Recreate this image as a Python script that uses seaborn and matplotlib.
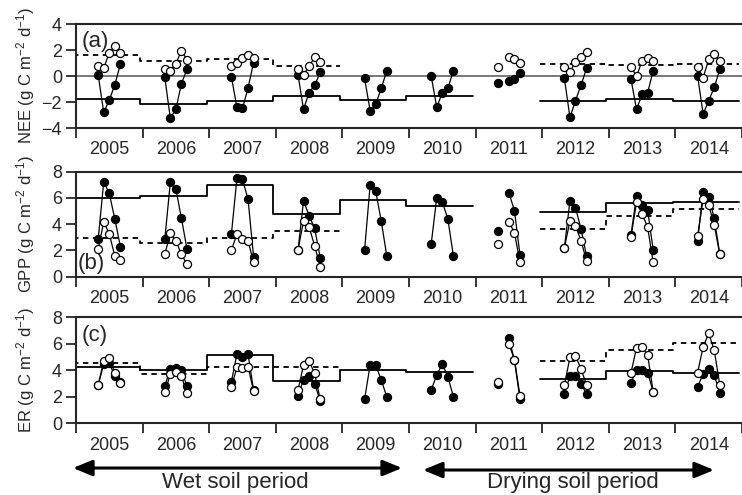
import numpy as np
import pandas as pd
import matplotlib
matplotlib.use("Agg")
import matplotlib.pyplot as plt
from matplotlib.patches import FancyArrowPatch
import seaborn as sns

nan = np.nan
years = list(range(2005, 2015))
months = [5, 6, 7, 8, 9]
year_labels = [str(y) for y in years]

# Monthly means (May-Sep), one row per year; filled = closed symbols, hollow = open symbols
nee_filled = [
    [0.08, -2.80, -1.85, -0.67, 0.90],
    [-0.10, -3.25, -2.56, -0.59, 0.51],
    [-0.05, -2.41, -2.49, -0.92, 1.03],
    [0.09, -2.56, -1.27, -0.72, 0.27],
    [-0.18, -2.67, -2.18, -0.95, 0.41],
    [0.00, -2.41, -1.28, -0.95, 0.41],
    [-0.51, nan, -0.38, -0.25, 0.20],
    [-0.18, -3.18, -1.90, -0.69, 0.59],
    [-0.26, -2.56, -1.41, -1.28, 0.41],
    [0.00, -2.92, -1.90, -0.87, 0.51],
]
nee_hollow = [
    [0.77, 0.60, 1.79, 2.33, 1.75],
    [0.57, 0.42, 0.95, 1.95, 1.25],
    [0.77, 1.03, 1.36, 1.60, 1.41],
    [0.51, 0.08, 0.75, 1.44, 1.10],
    [nan, nan, nan, nan, nan],
    [nan, nan, nan, nan, nan],
    [0.68, nan, 1.49, 1.33, 1.03],
    [0.67, 0.33, 1.10, 1.49, 1.82],
    [0.67, 0.00, 1.15, 1.41, 1.18],
    [0.67, -0.13, 1.28, 1.67, 1.15],
]
gpp_filled = [
    [2.85, 7.24, 6.35, 4.40, 2.29],
    [2.85, 7.19, 6.68, 4.45, 2.11],
    [3.23, 7.50, 7.42, 5.90, 1.52],
    [2.00, 5.79, 4.65, 3.69, 1.45],
    [2.03, 6.99, 6.53, 4.24, 1.58],
    [2.49, 6.02, 5.71, 4.40, 1.58],
    [3.48, nan, 6.40, 5.03, 1.65],
    [2.20, 5.79, 5.26, 3.63, 1.58],
    [3.20, 6.17, 5.46, 5.08, 2.03],
    [2.74, 6.48, 6.10, 4.45, 1.70],
]
gpp_hollow = [
    [2.11, 4.19, 3.25, 1.58, 1.27],
    [1.70, 3.30, 2.74, 1.70, 0.94],
    [2.03, 3.23, 2.85, 2.74, 1.09],
    [2.03, 4.24, 3.81, 2.34, 0.76],
    [nan, nan, nan, nan, nan],
    [nan, nan, nan, nan, nan],
    [2.46, nan, 4.19, 3.35, 1.09],
    [2.21, 4.24, 3.86, 2.74, 1.20],
    [3.05, 5.67, 4.78, 3.76, 1.09],
    [3.10, 5.92, 5.46, 3.94, 1.70],
]
er_filled = [
    [2.90, 4.48, 4.53, 3.57, 3.10],
    [2.82, 4.08, 4.20, 4.00, 2.82],
    [3.14, 5.23, 4.98, 5.23, 2.50],
    [2.08, 3.30, 3.55, 3.00, 1.71],
    [1.83, 4.40, 4.40, 3.27, 2.00],
    [2.51, 3.64, 4.47, 3.52, 2.01],
    [3.00, nan, 6.45, 4.75, 1.80],
    [2.21, 3.57, 3.57, 2.97, 2.21],
    [3.07, 4.02, 4.02, 3.82, 2.40],
    [2.77, 3.72, 4.08, 3.65, 2.26],
]
er_hollow = [
    [2.89, 4.70, 4.95, 3.82, 3.07],
    [2.34, 3.72, 3.90, 3.57, 2.26],
    [2.72, 4.23, 4.15, 4.27, 2.46],
    [2.51, 4.40, 4.70, 3.77, 1.81],
    [nan, nan, nan, nan, nan],
    [nan, nan, nan, nan, nan],
    [3.15, nan, 6.00, 4.80, 2.10],
    [2.89, 4.98, 5.08, 4.10, 2.89],
    [3.82, 5.70, 5.78, 5.15, 2.39],
    [3.82, 5.78, 6.79, 5.53, 2.89],
]

# Annual means (solid = filled series, dashed = hollow series)
nee_annual_filled = [-1.79, -2.18, -1.90, -1.52, -1.85, -1.54, nan, -1.90, -1.74, -1.90]
nee_annual_hollow = [1.62, 1.18, 1.28, 0.77, nan, nan, nan, 0.92, 0.85, 0.92]
gpp_annual_filled = [6.02, 6.12, 6.99, 4.75, 5.84, 5.39, nan, 4.90, 5.59, 5.67]
gpp_annual_hollow = [2.97, 2.54, 2.92, 3.48, nan, nan, nan, 3.61, 4.65, 5.13]
er_annual_filled = [4.27, 4.02, 5.15, 3.22, 4.02, 3.85, nan, 3.34, 3.95, 3.77]
er_annual_hollow = [4.53, 3.72, 4.23, 4.27, nan, nan, nan, 4.70, 5.53, 6.03]


def monthly_frame(values):
    rows = []
    for yr, vals in zip(years, values):
        seg = 0
        for m, v in zip(months, vals):
            if np.isnan(v):
                seg += 1
                continue
            rows.append(dict(t=yr + (m - 1) / 12, v=v, unit=f"{yr}-{seg}"))
    return pd.DataFrame(rows)


def annual_frame(values, shift=-0.04):
    rows = []
    seg = 0
    for i, (yr, v) in enumerate(zip(years, values)):
        if np.isnan(v):
            seg += 1
            continue
        rows.append(dict(t=yr + shift, v=v, unit=seg))
        last = (i == len(values) - 1) or np.isnan(values[i + 1])
        if last:
            rows.append(dict(t=yr + 1 + shift, v=v, unit=seg))
    return pd.DataFrame(rows)


sns.set_style("ticks")
plt.rcParams["font.family"] = ["Liberation Sans", "DejaVu Sans"]
plt.rcParams["mathtext.default"] = "regular"

ink = "#262626"
fig = plt.figure(figsize=(7.42, 4.95), dpi=100)

left, width = 0.1024, 0.8976
panels = [
    dict(rect=[left, 0.7414, width, 0.2101], ylim=(-4, 4), yticks=[-4, -2, 0, 2, 4],
         name="NEE", filled=nee_filled, hollow=nee_hollow,
         af=nee_annual_filled, ah=nee_annual_hollow, tag="(a)", tagpos=(0.009, 0.83), zero=True),
    dict(rect=[left, 0.4410, width, 0.2121], ylim=(0, 8), yticks=[0, 2, 4, 6, 8],
         name="GPP", filled=gpp_filled, hollow=gpp_hollow,
         af=gpp_annual_filled, ah=gpp_annual_hollow, tag="(b)", tagpos=(0.003, 0.13), zero=False),
    dict(rect=[left, 0.1448, width, 0.2141], ylim=(0, 8), yticks=[0, 2, 4, 6, 8],
         name="ER", filled=er_filled, hollow=er_hollow,
         af=er_annual_filled, ah=er_annual_hollow, tag="(c)", tagpos=(0.009, 0.83), zero=False),
]

for p in panels:
    ax = fig.add_axes(p["rect"])
    if p["zero"]:
        ax.axhline(0, color="#555555", lw=1.1, zorder=1)

    # annual mean steps
    sns.lineplot(data=annual_frame(p["af"]), x="t", y="v", units="unit", estimator=None,
                 drawstyle="steps-post", color="black", lw=1.3, ax=ax, legend=False)
    sns.lineplot(data=annual_frame(p["ah"]), x="t", y="v", units="unit", estimator=None,
                 drawstyle="steps-post", color="black", lw=1.3, linestyle=(0, (3, 2.5)),
                 ax=ax, legend=False)

    # monthly values
    sns.lineplot(data=monthly_frame(p["filled"]), x="t", y="v", units="unit", estimator=None,
                 color="black", lw=0.9, marker="o", markersize=5.8,
                 markerfacecolor="black", markeredgecolor="black", markeredgewidth=0.9,
                 ax=ax, legend=False)
    sns.lineplot(data=monthly_frame(p["hollow"]), x="t", y="v", units="unit", estimator=None,
                 color="black", lw=0.9, marker="o", markersize=5.8,
                 markerfacecolor="white", markeredgecolor="black", markeredgewidth=0.9,
                 ax=ax, legend=False)

    ax.set_xlim(2005, 2014.82)
    ax.set_ylim(*p["ylim"])
    ax.set_yticks(p["yticks"])
    ax.set_xticks(list(range(2005, 2016)))
    ax.set_xticklabels([])
    ax.set_xticks([y + 0.5 for y in years], minor=True)
    ax.set_xticklabels(year_labels, minor=True)
    ax.tick_params(axis="x", which="minor", length=0, pad=9.5, labelsize=13, labelcolor=ink)
    ax.tick_params(axis="both", which="major", direction="out", length=7, width=1.3,
                   color=ink, labelsize=13, labelcolor=ink, pad=3)
    ax.spines["right"].set_visible(False)
    for s in ("top", "bottom", "left"):
        ax.spines[s].set_linewidth(1.5)
        ax.spines[s].set_color(ink)
    ax.set_xlabel("")
    ax.set_ylabel(p["name"] + r" (g C m$^{-2}$ d$^{-1}$)", fontsize=12, color=ink, va="center")
    ax.yaxis.set_label_coords(-0.076, 0.5)
    ax.text(p["tagpos"][0], p["tagpos"][1], p["tag"], transform=ax.transAxes,
            fontsize=16, color=ink, ha="left", va="center")

# soil moisture periods
for x0, x1, y in [(73 / 742, 402 / 742, 0.0545), (423 / 742, 714 / 742, 0.0505)]:
    fig.add_artist(FancyArrowPatch((x0, y), (x1, y), transform=fig.transFigure,
                                   arrowstyle="<|-|>,head_length=0.58,head_width=0.24",
                                   mutation_scale=20, lw=2.2, color="black",
                                   shrinkA=0, shrinkB=0))
fig.text(235 / 742, 0.026, "Wet soil period", ha="center", va="center", fontsize=16, color=ink)
fig.text(572.5 / 742, 0.026, "Drying soil period", ha="center", va="center", fontsize=16, color=ink)

fig.savefig("out.png", dpi=100)
